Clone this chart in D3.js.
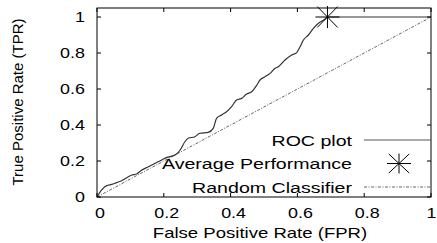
<!DOCTYPE html>
<html><head><meta charset="utf-8">
<script src="https://cdn.jsdelivr.net/npm/d3@7"></script>
<style>
body{margin:0;background:#fff;}
text{font-family:"Liberation Sans",Arial,Helvetica,sans-serif;fill:#000;}
</style></head>
<body><svg id="c" width="437" height="243"></svg>
<script>
const fpr = [0,0.014,0.029,0.044,0.059,0.074,0.089,0.104,0.119,0.134,0.154,0.174,0.194,0.209,0.229,0.239,0.249,0.263,0.273,0.293,0.308,0.333,0.348,0.358,0.373,0.388,0.403,0.418,0.433,0.448,0.463,0.478,0.488,0.503,0.518,0.533,0.543,0.563,0.583,0.598,0.608,0.618,0.633,0.648,0.663,0.683,0.69,1.0];
const tpr = [0,0.039,0.063,0.07,0.08,0.09,0.107,0.122,0.128,0.15,0.168,0.187,0.206,0.22,0.23,0.24,0.261,0.307,0.326,0.335,0.354,0.359,0.381,0.437,0.456,0.474,0.502,0.539,0.548,0.572,0.585,0.62,0.65,0.668,0.687,0.715,0.724,0.761,0.789,0.802,0.835,0.872,0.9,0.937,0.965,0.989,1.0,1.0];
const avgPoint = [0.69, 1.0];
const randomLine = [[0,0],[1,1]];
const xTicks = [0,0.2,0.4,0.6,0.8,1];
const yTicks = [0,0.2,0.4,0.6,0.8,1];
const xTickLabels = ["0","0.2","0.4","0.6","0.8","1"];
const yTickLabels = ["0","0.2","0.4","0.6","0.8","1"];
const legendLabels = ["ROC plot","Average Performance","Random Classifier"];
const xTitle = "False Positive Rate (FPR)";
const yTitle = "True Positive Rate (TPR)";

const svg = d3.select("#c");
const L=97, R=431, T=8, B=197;
const x = d3.scaleLinear().domain([0,1]).range([L,R]);
const y = d3.scaleLinear().domain([0,1.05]).range([B,T]);
const SX = 1.28;

function htext(px, py, str, anchor, size){
  const g = svg.append("g").attr("transform",`translate(${px},${py}) scale(${SX},1)`);
  g.append("text").attr("text-anchor",anchor).attr("font-size",size).text(str);
}

// random classifier
svg.append("path").datum(randomLine)
  .attr("d", d3.line().x(d=>x(d[0])).y(d=>y(d[1])))
  .attr("fill","none").attr("stroke","#555").attr("stroke-width",0.9)
  .attr("stroke-dasharray","3,1.5,1,1.5");

// ROC curve
const roc = fpr.map((f,i)=>[f,tpr[i]]);
svg.append("path").datum(roc)
  .attr("d", d3.line().x(d=>x(d[0])).y(d=>y(d[1])).curve(d3.curveMonotoneX))
  .attr("fill","none").attr("stroke","#333").attr("stroke-width",1.2);

// star marker
function star(cx, cy, hx, vy){
  const p = d3.path();
  p.moveTo(cx-hx,cy); p.lineTo(cx+hx,cy);
  p.moveTo(cx,cy-vy); p.lineTo(cx,cy+vy);
  p.moveTo(cx-hx*0.85,cy-vy*0.95); p.lineTo(cx+hx*0.85,cy+vy*0.95);
  p.moveTo(cx-hx*0.85,cy+vy*0.95); p.lineTo(cx+hx*0.85,cy-vy*0.95);
  svg.append("path").attr("d",p.toString()).attr("stroke","#000").attr("stroke-width",1).attr("fill","none");
}
star(x(avgPoint[0]), y(avgPoint[1]), 12, 11);

// frame
svg.append("rect").attr("x",L).attr("y",T).attr("width",R-L).attr("height",B-T)
  .attr("fill","none").attr("stroke","#000").attr("stroke-width",1);

// ticks (inward, mirrored)
const tk = 4;
xTicks.forEach(v=>{
  svg.append("line").attr("x1",x(v)).attr("x2",x(v)).attr("y1",B).attr("y2",B-tk).attr("stroke","#000");
  svg.append("line").attr("x1",x(v)).attr("x2",x(v)).attr("y1",T).attr("y2",T+tk).attr("stroke","#000");
});
yTicks.forEach(v=>{
  svg.append("line").attr("x1",L).attr("x2",L+tk).attr("y1",y(v)).attr("y2",y(v)).attr("stroke","#000");
  svg.append("line").attr("x1",R).attr("x2",R-tk).attr("y1",y(v)).attr("y2",y(v)).attr("stroke","#000");
});

// tick labels
xTicks.forEach((v,i)=> htext(Math.min(x(v)+3, 431.5), 218, xTickLabels[i], "middle", 14));
yTicks.forEach((v,i)=> htext(85, y(v)+5, yTickLabels[i], "end", 14));

// titles
htext(260, 238, xTitle, "middle", 14.5);
svg.append("text").attr("transform",`translate(23,102) rotate(-90)`)
  .attr("text-anchor","middle").attr("font-size",15).text(yTitle);

// legend
const lgY = [140, 163.5, 187];
legendLabels.forEach((s,i)=> htext(352, lgY[i]+5.5, s, "end", 15.3));
svg.append("line").attr("x1",364).attr("x2",R).attr("y1",lgY[0]).attr("y2",lgY[0])
  .attr("stroke","#555").attr("stroke-width",1.2);
star(399, lgY[1], 12, 10);
svg.append("line").attr("x1",364).attr("x2",R).attr("y1",lgY[2]).attr("y2",lgY[2])
  .attr("stroke","#555").attr("stroke-width",0.9).attr("stroke-dasharray","3,1.5,1,1.5");
</script></body></html>
